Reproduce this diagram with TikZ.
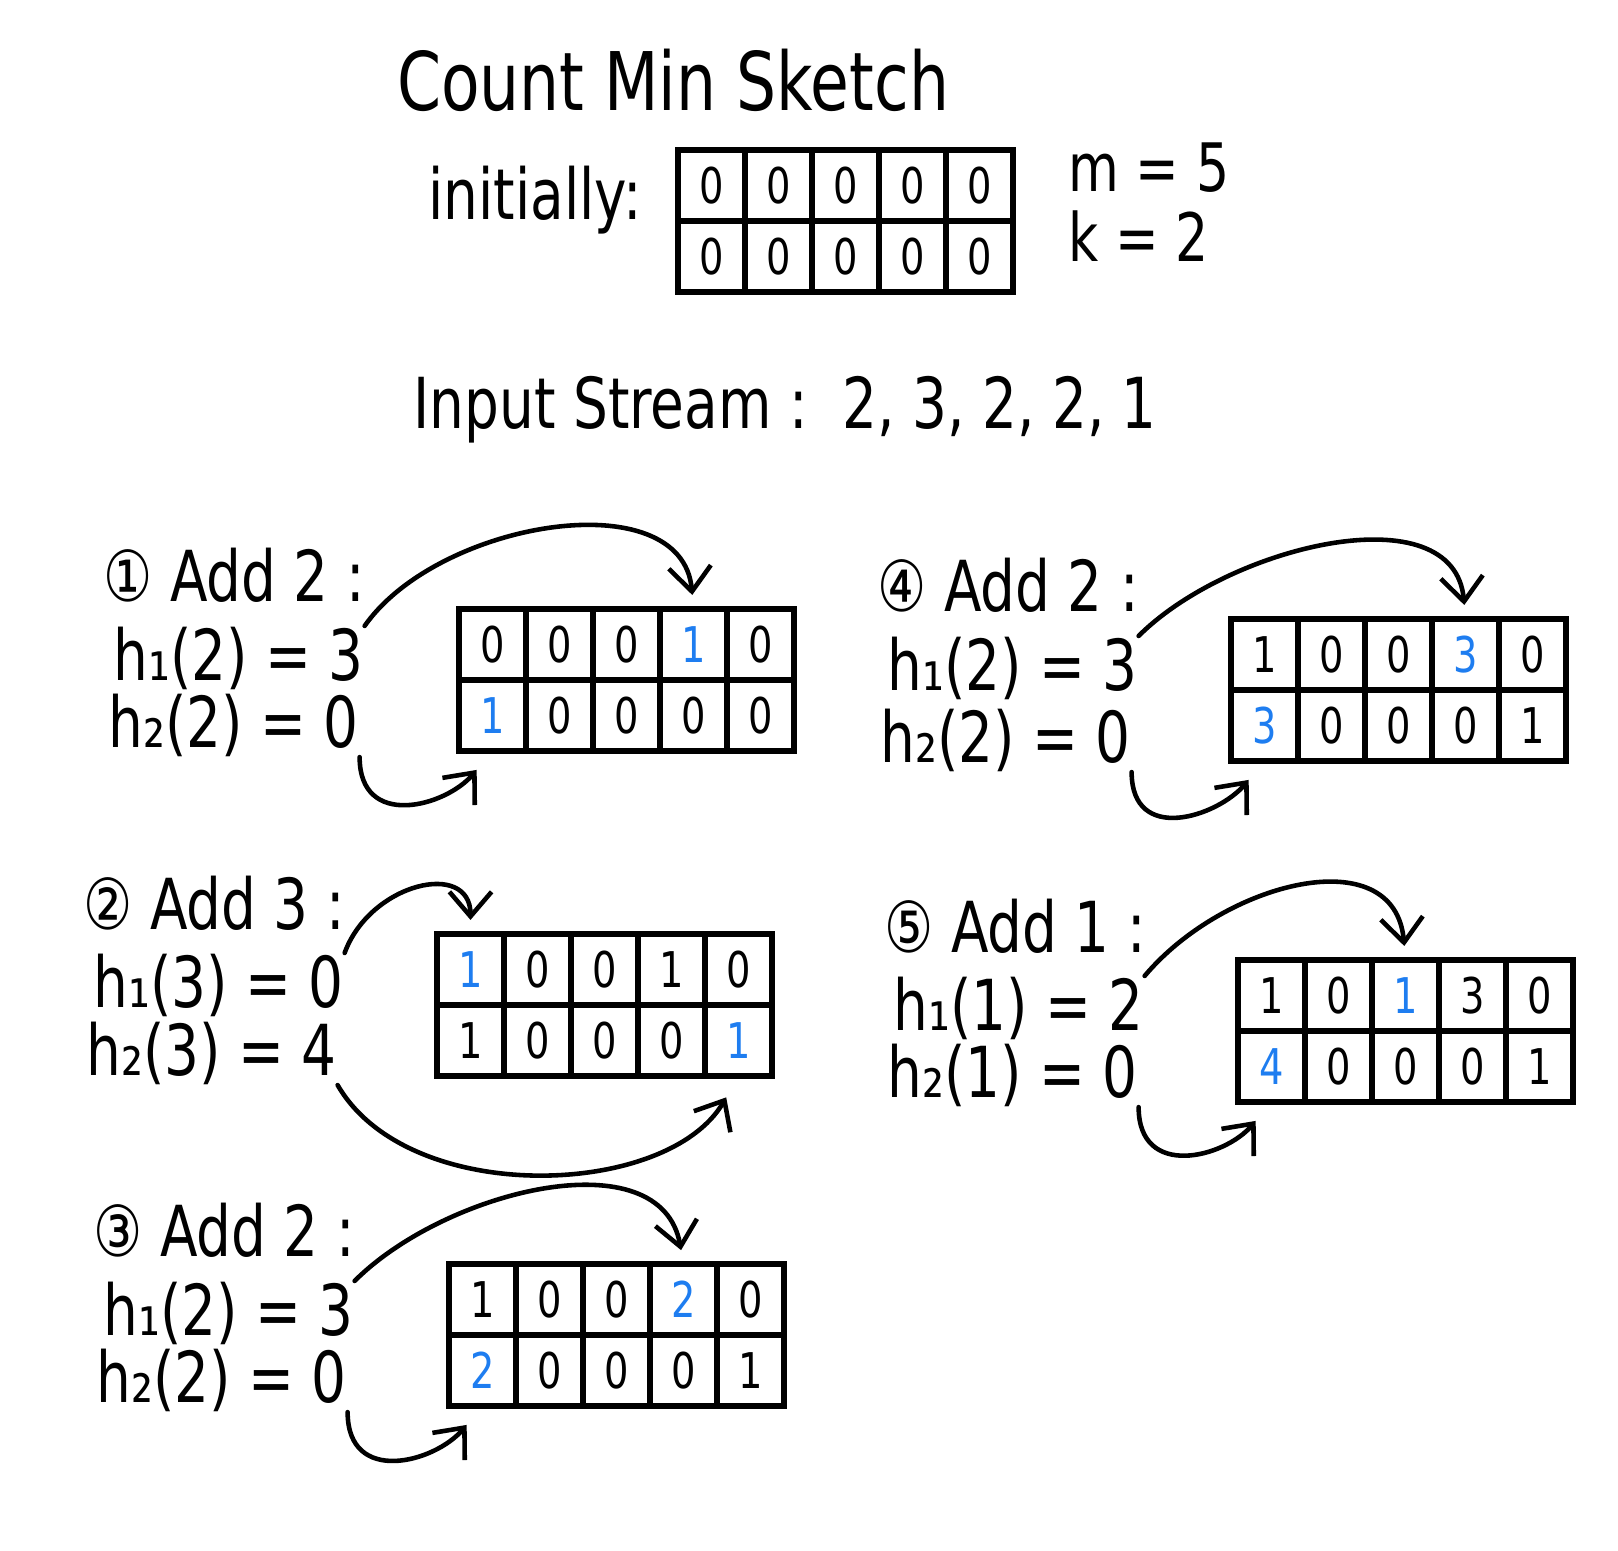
\documentclass[tikz,border=0pt]{standalone}
\usepackage{fontspec}
\setmainfont{DejaVu Sans}[FakeStretch=0.78]
\usepackage{tikz}
\usetikzlibrary{arrows.meta, positioning}

\definecolor{hlblue}{RGB}{30,125,240}
\newcommand{\hl}[1]{\textcolor{hlblue}{#1}}

% one sketch table: name, top left corner, top row, bottom row
\newcommand{\cmsgrid}[4]{
  \begin{scope}[shift={(#2)}]
    \foreach \val [count=\col] in {#3}
      \node[cell] (#1t\col) at ({\col*67-33.5}, 35.5) {\val};
    \foreach \val [count=\col] in {#4}
      \node[cell] (#1b\col) at ({\col*67-33.5}, 106.5) {\val};
  \end{scope}
}

\begin{document}
\begin{tikzpicture}[x=0.01cm, y=-0.01cm,
    cell/.style={draw, line width=1.5pt, minimum width=0.67cm, minimum height=0.71cm,
      inner sep=0pt, outer sep=0pt, font=\fontsize{14}{14}\selectfont},
    txt/.style={anchor=west, inner sep=0pt, font=\fontsize{20}{24}\selectfont},
    hash/.style={-{Straight Barb[length=7pt,width=12pt]}, line width=1.3pt,
      line cap=round, shorten >=4pt},
    hashlow/.style={hash, shorten >=7pt}]
  \useasboundingbox (0,0) rectangle (1618,1550);

  \node[font=\fontsize{23}{28}\selectfont] (title) at (673,80) {Count Min Sketch};
  \node[txt] (init) at (428,200) {initially:};
  \cmsgrid{s0}{678,150}{0,0,0,0,0}{0,0,0,0,0}
  \node[txt, font=\fontsize{19}{22}\selectfont] (m) at (1068,168) {m = 5};
  \node[txt, font=\fontsize{19}{22}\selectfont] (k) at (1068,236) {k = 2};
  \node[txt] (stream) at (413,410) {Input Stream :\enspace 2, 3, 2, 2, 1};

  % step 1
  \node[txt] (s1add) at (103,575) {① Add 2 :};
  \node[txt] (s1h1) at (113,658) {h₁(2) = 3};
  \node[txt] (s1h2) at (108,725) {h₂(2) = 0};
  \cmsgrid{s1}{459,609}{0,0,0,\hl{1},0}{\hl{1},0,0,0,0}
  \draw[hash] (s1h1.north east) to[out=55, in=95] (s1t4.north);
  \draw[hashlow] (s1h2.south east) to[out=-90, in=-130, looseness=1.4] (s1b1.south);

  % step 2
  \node[txt] (s2add) at (83,903) {② Add 3 :};
  \node[txt] (s2h1) at (93,985) {h₁(3) = 0};
  \node[txt] (s2h2) at (86,1053) {h₂(3) = 4};
  \cmsgrid{s2}{437,934}{\hl{1},0,0,1,0}{1,0,0,0,\hl{1}}
  \draw[hash] (s2h1.north east) to[out=70, in=90, looseness=1.5] (s2t1.north);
  \draw[hashlow] (s2h2.south east) to[out=-60, in=-120, looseness=0.9] (s2b5.south);

  % step 3
  \node[txt] (s3add) at (93,1230) {③ Add 2 :};
  \node[txt] (s3h1) at (103,1313) {h₁(2) = 3};
  \node[txt] (s3h2) at (96,1380) {h₂(2) = 0};
  \cmsgrid{s3}{449,1264}{1,0,0,\hl{2},0}{\hl{2},0,0,0,1}
  \draw[hash] (s3h1.north east) to[out=45, in=100] (s3t4.north);
  \draw[hashlow] (s3h2.south east) to[out=-90, in=-130, looseness=1.4] (s3b1.south);

  % step 4
  \node[txt] (s4add) at (877,585) {④ Add 2 :};
  \node[txt] (s4h1) at (887,668) {h₁(2) = 3};
  \node[txt] (s4h2) at (880,740) {h₂(2) = 0};
  \cmsgrid{s4}{1231,619}{1,0,0,\hl{3},0}{\hl{3},0,0,0,1}
  \draw[hash] (s4h1.north east) to[out=45, in=95] (s4t4.north);
  \draw[hashlow] (s4h2.south east) to[out=-90, in=-130, looseness=1.4] (s4b1.south);

  % step 5
  \node[txt] (s5add) at (884,926) {⑤ Add 1 :};
  \node[txt] (s5h1) at (893,1008) {h₁(1) = 2};
  \node[txt] (s5h2) at (887,1075) {h₂(1) = 0};
  \cmsgrid{s5}{1238,960}{1,0,\hl{1},3,0}{\hl{4},0,0,0,1}
  \draw[hash] (s5h1.north east) to[out=50, in=95, looseness=1.2] (s5t3.north);
  \draw[hashlow] (s5h2.south east) to[out=-90, in=-130, looseness=1.4] (s5b1.south);
\end{tikzpicture}
\end{document}
